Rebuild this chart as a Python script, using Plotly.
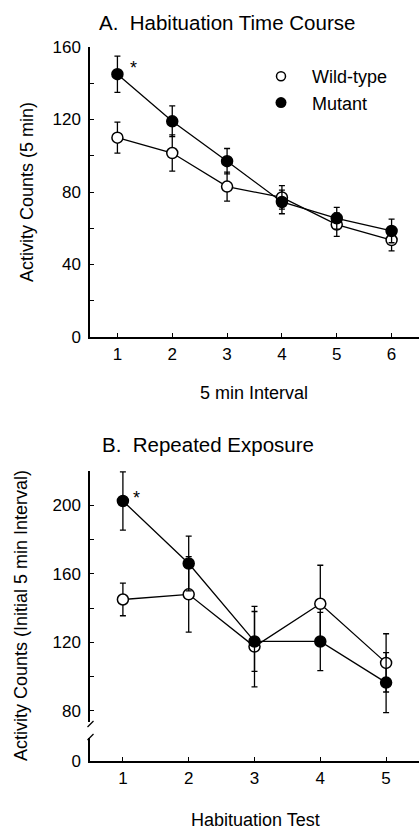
import plotly.graph_objects as go

# ---------------- data ----------------
interval_a = [1, 2, 3, 4, 5, 6]
wildtype_a = [110, 101.5, 83, 77, 62, 53.5]
wildtype_a_err = [8.5, 10, 8, 6.5, 6.5, 6]
mutant_a = [145, 119, 97, 74.5, 65.5, 58.5]
mutant_a_err = [10, 8.5, 7, 6.5, 6, 6.5]

test_b = [1, 2, 3, 4, 5]
wildtype_b = [145, 148, 117.5, 142.5, 108]
wildtype_b_err = [9.5, 22, 23.5, 22.5, 17]
mutant_b = [202.5, 166, 120.5, 120.5, 96.5]
mutant_b_err = [17, 16, 17.5, 17, 17.5]

ticks_a_y = [0, 40, 80, 120, 160]
ticks_b_y = [80, 120, 160, 200]

W, H = 419, 829
FONT = "Liberation Sans, Arial, sans-serif"


def px(x):
    return x / W


def py(y):
    return (H - y) / H


fig = go.Figure()

open_marker = dict(symbol="circle", size=11, color="white", line=dict(color="black", width=1.5))
fill_marker = dict(symbol="circle", size=11, color="black", line=dict(color="black", width=1.5))
err_style = dict(type="data", thickness=1.3, width=3, color="black")

# Panel A
fig.add_trace(go.Scatter(x=interval_a, y=wildtype_a, mode="lines+markers",
                         error_y=dict(array=wildtype_a_err, **err_style),
                         line=dict(color="black", width=1.3), marker=open_marker,
                         xaxis="x", yaxis="y", showlegend=False, cliponaxis=False))
fig.add_trace(go.Scatter(x=interval_a, y=mutant_a, mode="lines+markers",
                         error_y=dict(array=mutant_a_err, **err_style),
                         line=dict(color="black", width=1.3), marker=fill_marker,
                         xaxis="x", yaxis="y", showlegend=False, cliponaxis=False))
# Legend-only entries
fig.add_trace(go.Scatter(x=[None], y=[None], mode="markers", name="Wild-type",
                         marker=dict(symbol="circle", size=9, color="white",
                                     line=dict(color="black", width=1.5)),
                         xaxis="x", yaxis="y"))
fig.add_trace(go.Scatter(x=[None], y=[None], mode="markers", name="Mutant",
                         marker=dict(symbol="circle", size=11, color="black"),
                         xaxis="x", yaxis="y"))

# Panel B
fig.add_trace(go.Scatter(x=test_b, y=wildtype_b, mode="lines+markers",
                         error_y=dict(array=wildtype_b_err, **err_style),
                         line=dict(color="black", width=1.3), marker=open_marker,
                         xaxis="x2", yaxis="y2", showlegend=False, cliponaxis=False))
fig.add_trace(go.Scatter(x=test_b, y=mutant_b, mode="lines+markers",
                         error_y=dict(array=mutant_b_err, **err_style),
                         line=dict(color="black", width=1.3), marker=fill_marker,
                         xaxis="x2", yaxis="y2", showlegend=False, cliponaxis=False))
# empty trace that creates the lower (broken-axis) segment subplot
fig.add_trace(go.Scatter(x=[None], y=[None], mode="markers", xaxis="x2", yaxis="y3",
                         showlegend=False, hoverinfo="skip"))

axis_common = dict(showline=True, linecolor="black", linewidth=1.5, showgrid=False,
                   zeroline=False, ticks="inside", ticklen=4, tickwidth=1.3,
                   tickcolor="black", automargin=False,
                   tickfont=dict(family=FONT, size=17, color="black"))
minor_y = dict(dtick=20, tick0=0, ticks="inside", ticklen=4, tickwidth=1.3,
               tickcolor="black", showgrid=False)

fig.update_layout(
    template="none",
    width=W, height=H, autosize=False,
    margin=dict(l=0, r=0, t=0, b=0, pad=0),
    paper_bgcolor="white", plot_bgcolor="white",
    font=dict(family=FONT, color="black"),
    xaxis=dict(domain=[px(90), 1], range=[0.5, 6.5], anchor="y",
               tickvals=interval_a, ticklabelstandoff=1, **axis_common),
    yaxis=dict(domain=[py(337), py(47)], range=[0, 160], anchor="x",
               tickvals=ticks_a_y, ticklabelstandoff=4, minor=minor_y, **axis_common),
    xaxis2=dict(domain=[px(90), 1], range=[0.5, 5.5], anchor="y3",
                tickvals=test_b, ticklabelstandoff=1, **axis_common),
    yaxis2=dict(domain=[py(722), py(471)], range=[73.5, 220], anchor="x2",
                tickvals=ticks_b_y, ticklabelstandoff=4, minor=minor_y, **axis_common),
    yaxis3=dict(domain=[py(761), py(738)], range=[0, 13.5], anchor="x2",
                tickvals=[0], ticklabelstandoff=4, **axis_common),
    legend=dict(x=px(250), y=py(58), xanchor="left", yanchor="top",
                bgcolor="rgba(0,0,0,0)", borderwidth=0,
                font=dict(family=FONT, size=18, color="black"),
                itemwidth=52, tracegroupgap=0),
    showlegend=True,
)

annotations = [
    dict(text="A.  Habituation Time Course", x=px(97), y=py(23), xanchor="left", yanchor="middle",
         font=dict(size=20.5)),
    dict(text="5 min Interval", x=px(254), y=py(393), xanchor="center", yanchor="middle",
         font=dict(size=18)),
    dict(text="Activity Counts (5 min)", x=px(27), y=py(192), xanchor="center", yanchor="middle",
         textangle=-90, font=dict(size=18)),
    dict(text="B.  Repeated Exposure", x=px(100), y=py(444), xanchor="left", yanchor="middle",
         font=dict(size=20.5)),
    dict(text="Habituation Test", x=px(255), y=py(820), xanchor="center", yanchor="middle",
         font=dict(size=18)),
    dict(text="Activity Counts (Initial 5 min Interval)", x=px(21), y=py(616), xanchor="center",
         yanchor="middle", textangle=-90, font=dict(size=18)),
]
for a in annotations:
    a.update(xref="paper", yref="paper", showarrow=False)
    a["font"] = dict(family=FONT, color="black", size=a["font"]["size"])

# significance asterisks tied to first data points
annotations.append(dict(text="*", x=interval_a[0], y=mutant_a[0], xref="x", yref="y",
                        xshift=16, yshift=6, showarrow=False,
                        font=dict(family=FONT, size=18, color="black")))
annotations.append(dict(text="*", x=test_b[0], y=mutant_b[0], xref="x2", yref="y2",
                        xshift=14, yshift=3, showarrow=False,
                        font=dict(family=FONT, size=18, color="black")))
fig.update_layout(annotations=annotations)

# axis break marks
for (x0, y0, x1, y1) in [(87.5, 727, 93.5, 721), (87.5, 740, 93.5, 734)]:
    fig.add_shape(type="line", xref="paper", yref="paper",
                  x0=px(x0), y0=py(y0), x1=px(x1), y1=py(y1),
                  line=dict(color="black", width=1.3))

fig.write_html("out.html", config={"displayModeBar": False},
               post_script="document.body.style.margin='0';")
